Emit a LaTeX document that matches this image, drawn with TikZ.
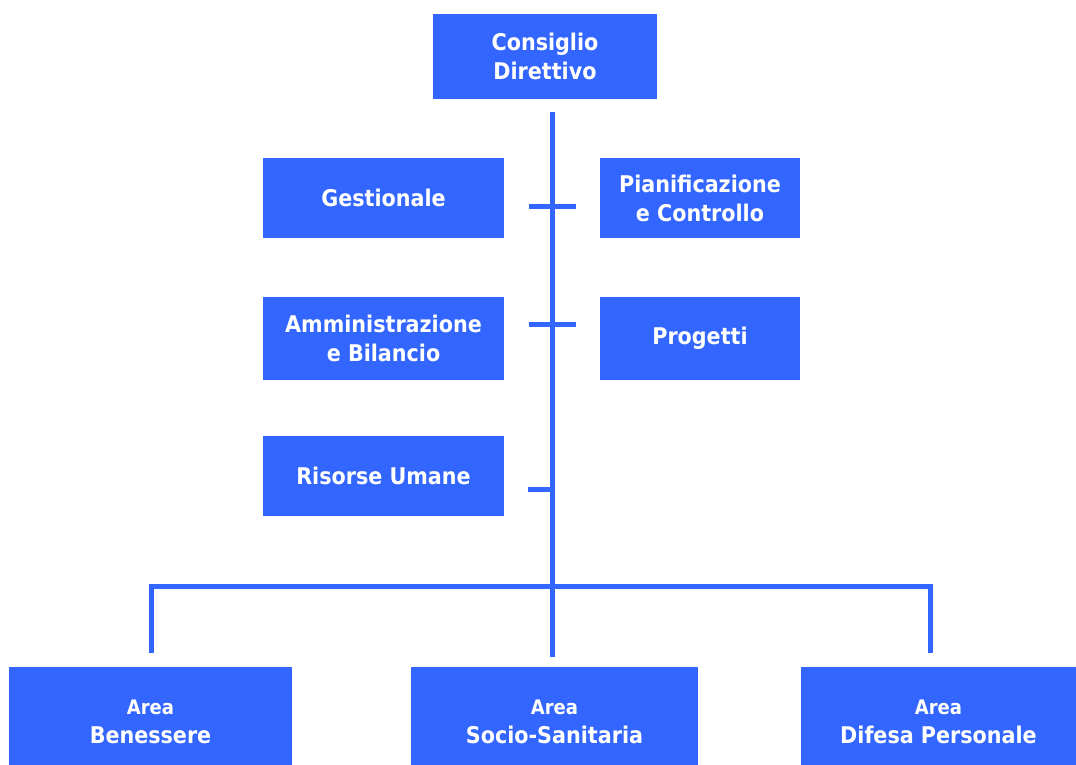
\documentclass[tikz,border=0pt]{standalone}
\usepackage{fontspec}
\setmainfont{DejaVu Sans Condensed}
\usepackage{xcolor}
\usepackage{tikz}
\usetikzlibrary{calc}
\usetikzlibrary{positioning}

\definecolor{orgblue}{RGB}{51,102,255}

\begin{document}
\begin{tikzpicture}[x=1pt, y=-1pt,
  unit/.style={rectangle, fill=orgblue, draw=none, inner sep=0pt, text=white, align=center,
    font=\bfseries\fontsize{23}{29}\selectfont},
  link/.style={draw=orgblue, line width=5pt}]
\useasboundingbox (0, 0) rectangle (1076, 765);
% top
\node [unit, minimum width=224, minimum height=85] (CD) at (545, 56.5) {Consiglio\\Direttivo};
% staff
\node [unit, minimum width=241, minimum height=80] (Ges) at (383.5, 198) {Gestionale};
\node [unit, minimum width=200, minimum height=80] (Pia) at (700, 198) {Pianificazione\\e Controllo};
\node [unit, minimum width=241, minimum height=83] (Amm) at (383.5, 338.5) {Amministrazione\\e Bilancio};
\node [unit, minimum width=200, minimum height=83] (Pro) at (700, 338.5) {Progetti};
\node [unit, minimum width=241, minimum height=80] (Ris) at (383.5, 476) {Risorse Umane};
% areas (run past the lower edge)
\node [unit, minimum width=283, minimum height=110] (Ben) at (150.5, 722) {{\fontsize{20}{29}\selectfont Area}\\Benessere};
\node [unit, minimum width=287, minimum height=110] (Soc) at (554.5, 722) {{\fontsize{20}{29}\selectfont Area}\\Socio-Sanitaria};
\node [unit, minimum width=275, minimum height=110] (Dif) at (938.5, 722) {{\fontsize{20}{29}\selectfont Area}\\Difesa Personale};

\coordinate (T0) at (552, 112);
\coordinate (T1) at (552, 206);
\coordinate (T2) at (552, 324);
\coordinate (T3) at (552, 489);
\coordinate (Bus) at (552, 586);
\coordinate (T4) at (552, 657);
\coordinate (BL) at (151, 653);
\coordinate (BR) at (930, 653);

\draw [link] (T0) -- (T4);
\draw [link] ([xshift=-23pt]T1) -- ([xshift=24pt]T1);
\draw [link] ([xshift=-23pt]T2) -- ([xshift=24pt]T2);
\draw [link] ([xshift=-24pt]T3) -- (T3);
\draw [link] (BL) |- (Bus) -| (BR);
\end{tikzpicture}
\end{document}
